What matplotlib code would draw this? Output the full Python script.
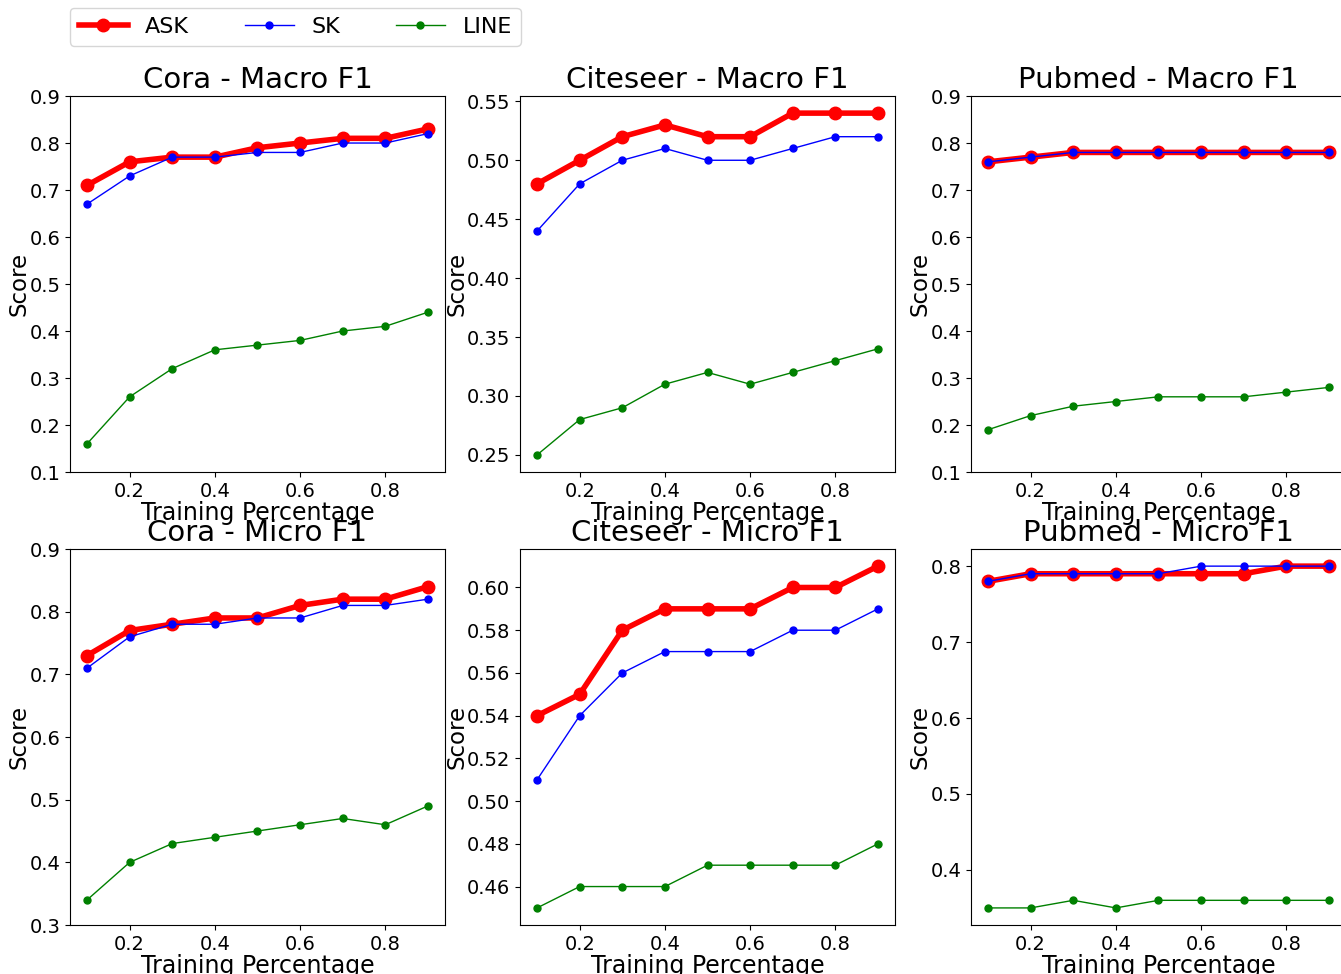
import matplotlib
matplotlib.use('Agg')
import matplotlib.pyplot as plt

# Training percentages
train_pct = [0.1, 0.2, 0.3, 0.4, 0.5, 0.6, 0.7, 0.8, 0.9]

# Macro F1
cora_macro_ask = [0.71, 0.76, 0.77, 0.77, 0.79, 0.80, 0.81, 0.81, 0.83]
cora_macro_sk = [0.67, 0.73, 0.77, 0.77, 0.78, 0.78, 0.80, 0.80, 0.82]
cora_macro_line = [0.16, 0.26, 0.32, 0.36, 0.37, 0.38, 0.40, 0.41, 0.44]

citeseer_macro_ask = [0.48, 0.50, 0.52, 0.53, 0.52, 0.52, 0.54, 0.54, 0.54]
citeseer_macro_sk = [0.44, 0.48, 0.50, 0.51, 0.50, 0.50, 0.51, 0.52, 0.52]
citeseer_macro_line = [0.25, 0.28, 0.29, 0.31, 0.32, 0.31, 0.32, 0.33, 0.34]

pubmed_macro_ask = [0.76, 0.77, 0.78, 0.78, 0.78, 0.78, 0.78, 0.78, 0.78]
pubmed_macro_sk = [0.76, 0.77, 0.78, 0.78, 0.78, 0.78, 0.78, 0.78, 0.78]
pubmed_macro_line = [0.19, 0.22, 0.24, 0.25, 0.26, 0.26, 0.26, 0.27, 0.28]

# Micro F1
cora_micro_ask = [0.73, 0.77, 0.78, 0.79, 0.79, 0.81, 0.82, 0.82, 0.84]
cora_micro_sk = [0.71, 0.76, 0.78, 0.78, 0.79, 0.79, 0.81, 0.81, 0.82]
cora_micro_line = [0.34, 0.40, 0.43, 0.44, 0.45, 0.46, 0.47, 0.46, 0.49]

citeseer_micro_ask = [0.54, 0.55, 0.58, 0.59, 0.59, 0.59, 0.60, 0.60, 0.61]
citeseer_micro_sk = [0.51, 0.54, 0.56, 0.57, 0.57, 0.57, 0.58, 0.58, 0.59]
citeseer_micro_line = [0.45, 0.46, 0.46, 0.46, 0.47, 0.47, 0.47, 0.47, 0.48]

pubmed_micro_ask = [0.78, 0.79, 0.79, 0.79, 0.79, 0.79, 0.79, 0.80, 0.80]
pubmed_micro_sk = [0.78, 0.79, 0.79, 0.79, 0.79, 0.80, 0.80, 0.80, 0.80]
pubmed_micro_line = [0.35, 0.35, 0.36, 0.35, 0.36, 0.36, 0.36, 0.36, 0.36]

panels = [
    ('Cora - Macro F1', cora_macro_ask, cora_macro_sk, cora_macro_line, (0.1, 0.9)),
    ('Citeseer - Macro F1', citeseer_macro_ask, citeseer_macro_sk, citeseer_macro_line, None),
    ('Pubmed - Macro F1', pubmed_macro_ask, pubmed_macro_sk, pubmed_macro_line, (0.1, 0.9)),
    ('Cora - Micro F1', cora_micro_ask, cora_micro_sk, cora_micro_line, (0.3, 0.9)),
    ('Citeseer - Micro F1', citeseer_micro_ask, citeseer_micro_sk, citeseer_micro_line, None),
    ('Pubmed - Micro F1', pubmed_micro_ask, pubmed_micro_sk, pubmed_micro_line, None),
]

fig = plt.figure(figsize=(13.41, 9.74), dpi=100)

lefts = [0.0522, 0.3878, 0.7241]
bottoms = [0.5154, 0.0503]
w, h = 0.2796, 0.386

for i, (title, ask, sk, line, ylim) in enumerate(panels):
    ax = fig.add_axes([lefts[i % 3], bottoms[i // 3], w, h])
    ax.plot(train_pct, ask, color='red', linewidth=4, marker='o', markersize=9, label='ASK')
    ax.plot(train_pct, sk, color='blue', linewidth=1, marker='o', markersize=5, label='SK')
    ax.plot(train_pct, line, color='green', linewidth=1, marker='o', markersize=5, label='LINE')
    if ylim is not None:
        ax.set_ylim(*ylim)
    ax.set_xticks([0.2, 0.4, 0.6, 0.8])
    ax.tick_params(labelsize=14)
    ax.set_title(title, fontsize=21)
    ax.set_xlabel('Training Percentage', fontsize=17, labelpad=0)
    ax.set_ylabel('Score', fontsize=16.5, labelpad=-1)
    if i == 0:
        handles, labels = ax.get_legend_handles_labels()

fig.legend(handles, labels, loc='upper left', bbox_to_anchor=(0.052, 0.992), ncol=3,
           fontsize=16, handlelength=2.2, columnspacing=2.5, borderaxespad=0)

fig.savefig('out.png', dpi=100)
